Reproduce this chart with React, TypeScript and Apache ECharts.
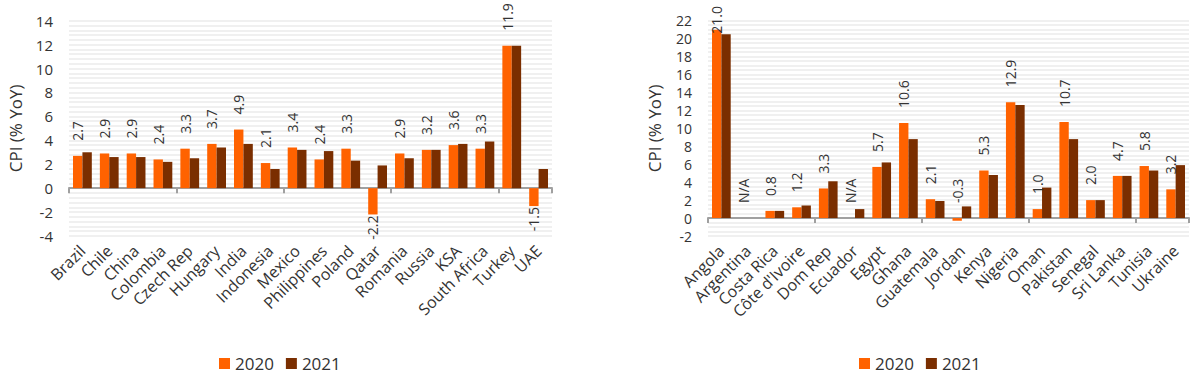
import React, { useEffect, useRef } from "react";
import * as echarts from "echarts";

const leftCategories = ["Brazil", "Chile", "China", "Colombia", "Czech Rep", "Hungary", "India", "Indonesia", "Mexico", "Philippines", "Poland", "Qatar", "Romania", "Russia", "KSA", "South Africa", "Turkey", "UAE"];
const left2020 = [2.7, 2.9, 2.9, 2.4, 3.3, 3.7, 4.9, 2.1, 3.4, 2.4, 3.3, -2.2, 2.9, 3.2, 3.6, 3.3, 11.9, -1.5];
const left2021 = [3.0, 2.6, 2.6, 2.2, 2.5, 3.4, 3.7, 1.6, 3.2, 3.1, 2.3, 1.9, 2.5, 3.2, 3.7, 3.9, 11.9, 1.6];

const rightCategories = ["Angola", "Argentina", "Costa Rica", "Côte d'Ivoire", "Dom Rep", "Ecuador", "Egypt", "Ghana", "Guatemala", "Jordan", "Kenya", "Nigeria", "Oman", "Pakistan", "Senegal", "Sri Lanka", "Tunisia", "Ukraine"];
const right2020: (number | null)[] = [21.0, null, 0.8, 1.2, 3.3, null, 5.7, 10.6, 2.1, -0.3, 5.3, 12.9, 1.0, 10.7, 2.0, 4.7, 5.8, 3.2];
const right2021: (number | null)[] = [20.5, null, 0.8, 1.4, 4.1, 1.0, 6.2, 8.8, 1.9, 1.3, 4.8, 12.6, 3.4, 8.8, 2.0, 4.7, 5.3, 5.9];

const leftTicks = { min: -4, max: 14, interval: 2 };
const rightTicks = { min: -2, max: 22, interval: 2 };

const FONT = "'Open Sans', 'Noto Sans', sans-serif";
const TEXT = "#333333";
const C2020 = "#FF6200";
const C2021 = "#7A2E00";

function labelled(values: (number | null)[], topMax: number) {
  return values.map((v) => {
    if (v === null) return { value: 0, label: { formatter: "N/A" } };
    if (v < -1) return { value: v, label: { position: "bottom", align: "right", distance: 1 } };
    if (v > topMax) return { value: v, label: { distance: -4 } };
    return v;
  });
}

export default function App() {
  const ref = useRef<HTMLDivElement>(null);
  useEffect(() => {
    document.body.style.margin = "0";
    const chart = echarts.init(ref.current!, null, { renderer: "svg" });
    const valueLabel = {
      show: true,
      position: "top",
      rotate: 90,
      align: "left",
      verticalAlign: "middle",
      distance: 15,
      fontSize: 14,
      fontFamily: FONT,
      color: TEXT,
      formatter: (p: any) => (typeof p.value === "number" ? p.value.toFixed(1) : p.value),
    };
    const yAxisBase = (t: any, fs: number, gridIndex: number) => ({
      type: "value",
      gridIndex,
      min: t.min,
      max: t.max,
      interval: t.interval,
      name: "CPI (% YoY)",
      nameLocation: "middle",
      nameGap: 45,
      nameTextStyle: { fontSize: 17, color: TEXT, fontFamily: FONT },
      axisLine: { show: false },
      axisTick: { show: false },
      axisLabel: { fontSize: fs, color: TEXT, fontFamily: FONT, margin: 16 },
      splitLine: { show: true, lineStyle: { color: "#f0f0f0", width: 2 } },
      minorTick: { show: false, splitNumber: gridIndex === 0 ? 5 : 4 },
      minorSplitLine: { show: true, lineStyle: { color: "#f0f0f0", width: 2 } },
    });
    const labelAxis = (cats: string[], gridIndex: number) => ({
      type: "category",
      gridIndex,
      data: cats,
      position: "bottom",
      axisLine: { show: false, onZero: false },
      axisTick: { show: false },
      axisLabel: { interval: 0, rotate: 45, fontSize: 16, color: TEXT, fontFamily: FONT, margin: 12 },
    });
    const zeroAxis = (cats: string[], gridIndex: number) => ({
      type: "category",
      gridIndex,
      data: cats,
      position: "bottom",
      axisLine: { show: true, onZero: true, lineStyle: { color: "#a0a0a0", width: 2 } },
      axisTick: { show: true, length: 5, lineStyle: { color: "#a0a0a0", width: 2 } },
      axisLabel: { show: false },
    });
    const barBase = { type: "bar", barGap: "0%", barCategoryGap: "30%" };
    const legendBase = {
      data: ["2020", "2021"], top: 350, itemWidth: 11, itemHeight: 11, itemGap: 12,
      icon: "rect", textStyle: { fontSize: 17, color: TEXT, fontFamily: FONT },
    };
    chart.setOption({
      animation: false,
      backgroundColor: "#ffffff",
      textStyle: { fontFamily: FONT },
      grid: [
        { left: 69, right: 648, top: 20.7, bottom: 141 },
        { left: 708, right: 11, top: 20.7, bottom: 141 },
      ],
      legend: [
        { ...legendBase, left: 214 },
        { ...legendBase, left: 854 },
      ],
      xAxis: [
        labelAxis(leftCategories, 0),
        zeroAxis(leftCategories, 0),
        labelAxis(rightCategories, 1),
        zeroAxis(rightCategories, 1),
      ],
      yAxis: [yAxisBase(leftTicks, 15, 0), yAxisBase(rightTicks, 14, 1)],
      series: [
        { ...barBase, name: "2020", xAxisIndex: 0, yAxisIndex: 0, data: labelled(left2020, 100), itemStyle: { color: C2020 }, label: valueLabel },
        { ...barBase, name: "2021", xAxisIndex: 0, yAxisIndex: 0, data: left2021, itemStyle: { color: C2021 } },
        { ...barBase, name: "2020", xAxisIndex: 2, yAxisIndex: 1, data: labelled(right2020, 20), itemStyle: { color: C2020 }, label: valueLabel },
        { ...barBase, name: "2021", xAxisIndex: 2, yAxisIndex: 1, data: right2021, itemStyle: { color: C2021 } },
      ],
    });
    return () => chart.dispose();
  }, []);
  return <div ref={ref} style={{ width: 1200, height: 377 }} />;
}
